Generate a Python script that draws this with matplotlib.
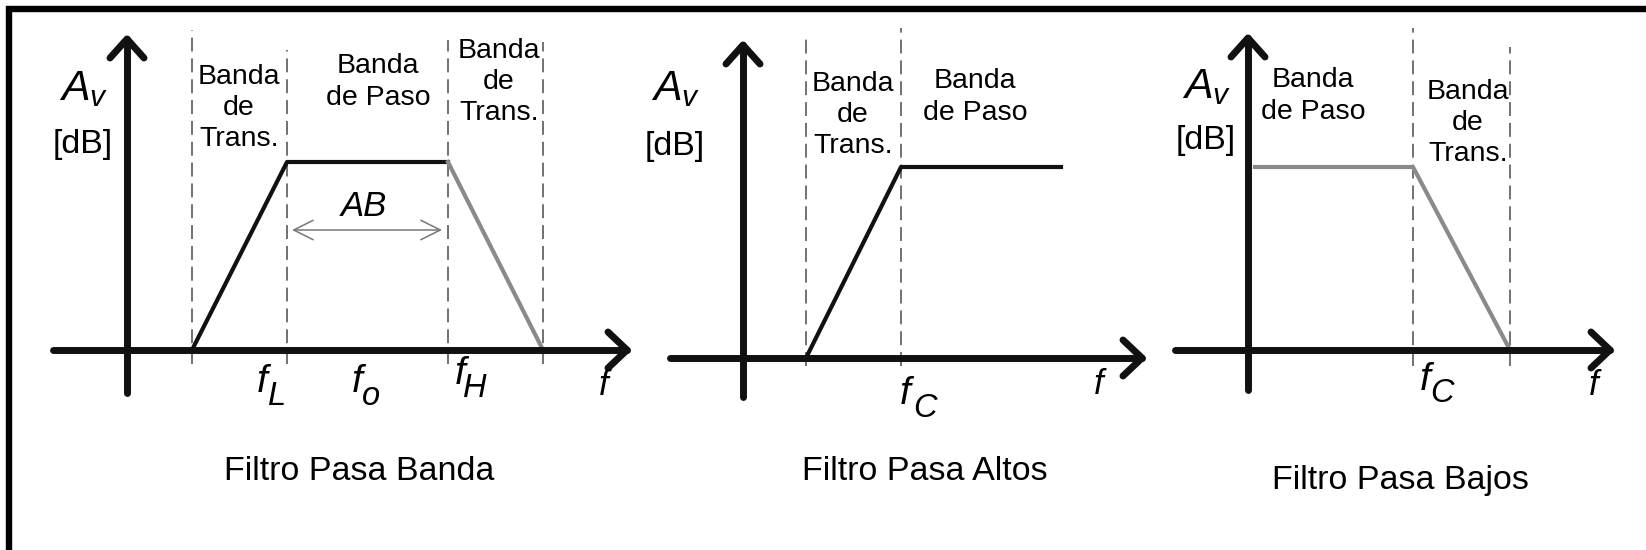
import matplotlib
matplotlib.use("Agg")
import matplotlib.pyplot as plt
from matplotlib.lines import Line2D

plt.rcParams["font.family"] = ["Liberation Sans", "DejaVu Sans"]
plt.rcParams["mathtext.fontset"] = "custom"
plt.rcParams["mathtext.it"] = "Liberation Sans:italic"
plt.rcParams["mathtext.rm"] = "Liberation Sans"
plt.rcParams["lines.scale_dashes"] = False

W, H = 1646, 550

# --- data (units: pixels measured from the origin where the axes cross) ---
# band-pass
bp_freqs = [65, 160, 321, 416]          # start, f_L, f_H, end
bp_gain = 188
bp_dash_top = [320, 300, 310, 308]
bp_text = ["Banda\nde\nTrans.", "Banda\nde Paso", "Banda\nde\nTrans."]
bp_text_xy = [(112, 242), (251, 268), (372, 268)]
bp_ticks = [("f", "L"), ("f", "o"), ("f", "H")]
bp_tick_xy = [(135.5, -42, 141, -55), (230, -42, 235, -55), (333, -34, 336, -47)]
bp_title = "Filtro Pasa Banda"

# high-pass
hp_freqs = [63, 158, 318]               # start, f_C, end of flat part
hp_gain = 191
hp_dash_top = [321, 330]
hp_text = ["Banda\nde\nTrans.", "Banda\nde Paso"]
hp_text_xy = [(110, 243), (232, 261)]
hp_ticks = [("f", "C")]
hp_tick_xy = [(162, -46, 170, -59)]
hp_title = "Filtro Pasa Altos"

# low-pass
lp_freqs = [7, 165, 262]                # start of flat part, f_C, end
lp_gain = 183
lp_dash_top = [322, 303]
lp_text = ["Banda\nde Paso", "Banda\nde\nTrans."]
lp_text_xy = [(65, 254), (220, 227)]
lp_ticks = [("f", "C")]
lp_tick_xy = [(177, -40, 182, -52)]
lp_title = "Filtro Pasa Bajos"

BLACK = "#111111"
GRAY = "#8a8a8a"
DASH = "#4a4a4a"

fig = plt.figure(figsize=(W / 100, H / 100), dpi=100)
fig.patch.set_facecolor("white")

# frame (top and left only, as in the picture)
fig.add_artist(Line2D([9 / W, 9 / W, 1.01], [0, 1 - 8.5 / H, 1 - 8.5 / H],
                      transform=fig.transFigure, color="black", lw=4.6,
                      solid_joinstyle="miter"))


def panel(ox, oy):
    ax = fig.add_axes([0, 0, 1, 1])
    ax.set_xlim(-ox, W - ox)
    ax.set_ylim(-(H - oy), oy)
    ax.axis("off")
    ax.patch.set_alpha(0)
    return ax


def axes_arrows(ax, x0, x1, y0, y1):
    kw = dict(color=BLACK, lw=5, solid_capstyle="round", solid_joinstyle="round", zorder=3)
    ax.plot([x0, x1], [0, 0], **kw)
    ax.plot([0, 0], [y0, y1], **kw)
    ax.plot([x1 - 19, x1, x1 - 19], [18, 0, -18], **kw)
    ax.plot([-17, 0, 17], [y1 - 19, y1, y1 - 19], **kw)


def dashes(ax, xs, tops, bottom):
    for x, t in zip(xs, tops):
        ax.plot([x, x], [bottom, t], color=DASH, lw=1.1, ls=(0, (10, 5)), zorder=1)


def gain_label(ax, x, y_base, y_db):
    ax.text(x, y_base, r"$A_v$", fontsize=31, ha="left", va="baseline")
    ax.text(x + 24, y_db, "[dB]", fontsize=24.5, ha="center", va="center")


def band_texts(ax, texts, xy):
    for t, (x, y) in zip(texts, xy):
        ax.text(x, y, t, fontsize=20.5, ha="center", va="center",
                multialignment="center", linespacing=1.27)


def freq_labels(ax, ticks, xy):
    for (m, s), (x, y, sx, sy) in zip(ticks, xy):
        ax.text(x, y, m, fontsize=28, style="italic", ha="center", va="baseline")
        ax.text(sx, sy, s, fontsize=23.5, style="italic", ha="left", va="baseline")


# ---- panel 1: band-pass ----
ax = panel(127, 350)
dashes(ax, bp_freqs, bp_dash_top, -14)
f0, fl, fh, f1 = bp_freqs
ax.plot([f0, fl, fh], [0, bp_gain, bp_gain], color=BLACK, lw=3, zorder=2)
ax.plot([fh, f1], [bp_gain, 0], color=GRAY, lw=3, zorder=2)
axes_arrows(ax, -74, 500, -43, 311)
gain_label(ax, -68, 250, 205)
band_texts(ax, bp_text, bp_text_xy)
freq_labels(ax, bp_ticks, bp_tick_xy)
ax.text(477, -45, "f", fontsize=25, style="italic", ha="center", va="baseline")
ax.annotate("", xy=(fh - 6, 120), xytext=(fl + 5, 120),
            arrowprops=dict(arrowstyle="<->,head_length=0.7,head_width=0.35",
                            color="#777777", lw=1.1, shrinkA=0, shrinkB=0,
                            mutation_scale=20))
ax.text(237, 144, "AB", fontsize=25, style="italic", ha="center", va="center")
ax.text(232, -122, bp_title, fontsize=24.5, ha="center", va="center")

# ---- panel 2: high-pass ----
ax = panel(743, 358)
dashes(ax, hp_freqs[:2], hp_dash_top, -8)
f0, fc, f1 = hp_freqs
ax.plot([f0, fc, f1], [0, hp_gain, hp_gain], color=BLACK, lw=3, zorder=2)
axes_arrows(ax, -73, 399, -39, 313)
gain_label(ax, -92, 258, 211)
band_texts(ax, hp_text, hp_text_xy)
freq_labels(ax, hp_ticks, hp_tick_xy)
ax.text(356, -36, "f", fontsize=25, style="italic", ha="center", va="baseline")
ax.text(182, -114, hp_title, fontsize=24.5, ha="center", va="center")

# ---- panel 3: low-pass ----
ax = panel(1248, 350)
dashes(ax, lp_freqs[1:], lp_dash_top, -16)
f0, fc, f1 = lp_freqs
ax.plot([f0, fc, f1], [lp_gain, lp_gain, 0], color=GRAY, lw=3, zorder=2)
axes_arrows(ax, -73, 362, -40, 312)
gain_label(ax, -66, 252, 210)
band_texts(ax, lp_text, lp_text_xy)
freq_labels(ax, lp_ticks, lp_tick_xy)
ax.text(346, -45, "f", fontsize=25, style="italic", ha="center", va="baseline")
ax.text(152, -130, lp_title, fontsize=24.5, ha="center", va="center")

fig.savefig("out.png", dpi=100)
